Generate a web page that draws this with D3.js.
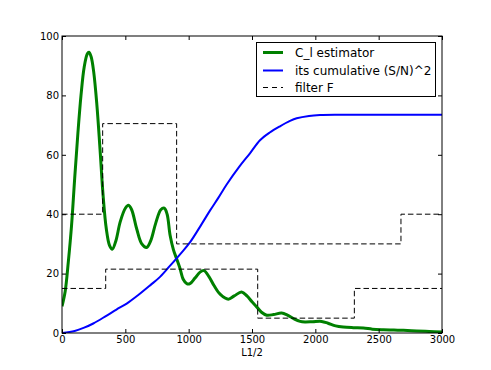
<!DOCTYPE html>
<html>
<head>
<meta charset="utf-8">
<script src="https://cdn.jsdelivr.net/npm/d3@7"></script>
<style>
body{margin:0;background:#fff;}
text{font-family:"DejaVu Sans",sans-serif;}
</style>
</head>
<body>
<svg id="chart" width="491" height="370"></svg>
<script>
const xTicks=[0,500,1000,1500,2000,2500,3000];
const yTicks=[0,20,40,60,80,100];
const xLabel="L1/2";
const seriesNames=["C_l estimator","its cumulative (S/N)^2","filter F"];

const clL=[0,25,50,75,100,125,150,175,200,213,230,250,275,300,325,350,375,397,425,460,500,525,550,590,630,668,700,740,780,808,830,853,880,905,930,958,985,1010,1050,1090,1121,1160,1200,1250,1313,1360,1418,1460,1500,1537,1575,1616,1670,1734,1780,1830,1880,1918,1980,2050,2100,2160,2220,2300,2379,2450,2537,2620,2695,2800,2900,3000];
const clV=[9,14,24,36,52,67,80,89.5,94,94.5,93,88,77,62,46,35,29.5,28.2,31,37.5,42,43,41.5,35,30,28.8,31,37,41.5,42,40,33,28,25,22,18,16.6,16.6,18.5,20.5,21,19,16,13,11.4,12.5,13.8,12.5,10.5,8.8,7,6,6.2,6.7,6,4.8,3.9,3.7,3.8,3.9,3.3,2.4,2,1.8,1.7,1.3,1.1,1,0.9,0.7,0.5,0.35];

const cumL=[0,100,175,247,350,430,511,600,700,774,850,932,1010,1100,1168,1234,1300,1400,1484,1563,1640,1721,1800,1853,1950,2037,2200,3000];
const cumV=[0,0.7,1.8,3.2,5.8,7.9,9.9,12.7,16.2,18.9,22.5,26.5,30.5,36.5,41.2,45.5,50,56,60.5,64.9,67.5,69.6,71.4,72.3,73.1,73.4,73.5,73.5];

const filtAEdges=[0,321,905,2676,3000];
const filtAVals=[40,70.5,30,40];
const filtBEdges=[0,345,1545,2308,3000];
const filtBVals=[15,21.5,5,15];

const svg=d3.select("#chart");
const mLeft=62,mRight=442,mTop=36,mBottom=333;
const x=d3.scaleLinear().domain([0,3000]).range([mLeft,mRight]);
const y=d3.scaleLinear().domain([0,100]).range([mBottom,mTop]);

const g=svg.append("g");
svg.append("clipPath").attr("id","clip").append("rect")
  .attr("x",mLeft).attr("y",mTop).attr("width",mRight-mLeft).attr("height",mBottom-mTop);
const plot=g.append("g").attr("clip-path","url(#clip)");

const line=d3.line().x(d=>x(d[0])).y(d=>y(d[1])).curve(d3.curveCatmullRom.alpha(0.5));
plot.append("path").datum(clL.map((l,i)=>[l,clV[i]]))
  .attr("d",line).attr("fill","none").attr("stroke","#008000").attr("stroke-width",3).attr("stroke-linejoin","round");
plot.append("path").datum(cumL.map((l,i)=>[l,cumV[i]]))
  .attr("d",line)
  .attr("fill","none").attr("stroke","#0000ff").attr("stroke-width",2);

function stepData(edges,vals){
  const pts=[];
  vals.forEach((v,i)=>{pts.push([edges[i],v]);pts.push([edges[i+1],v]);});
  return pts;
}
const stepLine=d3.line().x(d=>x(d[0])).y(d=>y(d[1]));
[[filtAEdges,filtAVals],[filtBEdges,filtBVals]].forEach(([e,v])=>{
  plot.append("path").datum(stepData(e,v)).attr("d",stepLine)
    .attr("fill","none").attr("stroke","#000").attr("stroke-width",1)
    .attr("stroke-dasharray","5.5,3");
});

g.append("rect").attr("x",mLeft).attr("y",mTop).attr("width",mRight-mLeft).attr("height",mBottom-mTop)
  .attr("fill","none").attr("stroke","#000").attr("stroke-width",1);

const xAxis=d3.axisBottom(x).tickValues(xTicks).tickSizeInner(-4).tickSizeOuter(0).tickPadding(3).tickFormat(d3.format("d"));
const xg=g.append("g").attr("transform",`translate(0,${mBottom})`).call(xAxis);
const xTopAx=g.append("g").attr("transform",`translate(0,${mTop})`).call(d3.axisTop(x).tickValues(xTicks).tickSizeInner(-4).tickSizeOuter(0).tickFormat(""));
const yAxis=d3.axisLeft(y).tickValues(yTicks).tickSizeInner(-4).tickSizeOuter(0).tickPadding(3).tickFormat(d3.format("d"));
const yg=g.append("g").attr("transform",`translate(${mLeft},0)`).call(yAxis);
const yRightAx=g.append("g").attr("transform",`translate(${mRight},0)`).call(d3.axisRight(y).tickValues(yTicks).tickSizeInner(-4).tickSizeOuter(0).tickFormat(""));
[xg,xTopAx,yg,yRightAx].forEach(a=>{a.select(".domain").remove();a.selectAll("line").attr("stroke","#000");});
[xg,yg].forEach(a=>a.selectAll("text").attr("font-size",10).attr("font-family","DejaVu Sans").attr("fill","#000"));

g.append("text").attr("x",(mLeft+mRight)/2).attr("y",356).attr("text-anchor","middle")
  .attr("font-size",10).text(xLabel);

const lg=g.append("g");
lg.append("rect").attr("x",256.5).attr("y",42.5).attr("width",179).attr("height",54)
  .attr("fill","#fff").attr("stroke","#000").attr("stroke-width",1);
const rowsY=[52.5,70.5,87.5];
const styles=[{c:"#008000",w:3,d:null},{c:"#0000ff",w:2,d:null},{c:"#000",w:1,d:"5,4"}];
seriesNames.forEach((n,i)=>{
  lg.append("line").attr("x1",263).attr("x2",283).attr("y1",rowsY[i]).attr("y2",rowsY[i])
    .attr("stroke",styles[i].c).attr("stroke-width",styles[i].w)
    .attr("stroke-dasharray",styles[i].d);
  lg.append("text").attr("x",295).attr("y",rowsY[i]).attr("dy","0.35em")
    .attr("font-size",12).text(n);
});
</script>
</body>
</html>
